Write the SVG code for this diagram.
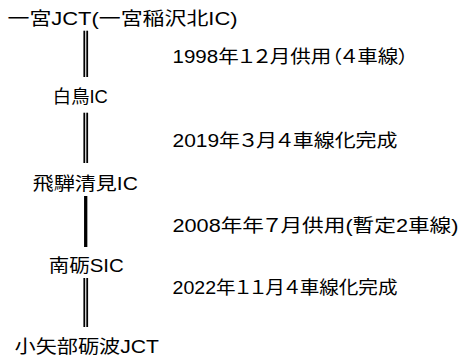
<svg xmlns="http://www.w3.org/2000/svg" width="460" height="362" viewBox="0 0 460 362">
<style>
text{font-family:"Liberation Sans","Noto Sans CJK JP",sans-serif;font-size:18px;fill:#000;font-feature-settings:"palt"}
.dbl{stroke:#000;stroke-width:1.8;fill:none}
.sgl{stroke:#000;stroke-width:3.3;fill:none}
</style>
<rect width="460" height="362" fill="#fff"/>
<g id="connectors">
  <g id="seg1"><line class="dbl" x1="84.3" y1="30.7" x2="84.3" y2="77"/><line class="dbl" x1="87.2" y1="30.7" x2="87.2" y2="77"/>
    <text x="172.5" y="63" textLength="236" lengthAdjust="spacingAndGlyphs">1998年１２月供用（４車線）</text></g>
  <g id="seg2"><line class="dbl" x1="84.3" y1="112.7" x2="84.3" y2="163"/><line class="dbl" x1="87.2" y1="112.7" x2="87.2" y2="163"/>
    <text x="172.5" y="147" textLength="225" lengthAdjust="spacingAndGlyphs">2019年３月４車線化完成</text></g>
  <g id="seg3"><line class="sgl" x1="85.7" y1="196" x2="85.7" y2="247"/>
    <text x="172.5" y="232" textLength="286" lengthAdjust="spacingAndGlyphs">2008年年７月供用(暫定2車線)</text></g>
  <g id="seg4"><line class="dbl" x1="84.3" y1="278" x2="84.3" y2="327"/><line class="dbl" x1="87.2" y1="278" x2="87.2" y2="327"/>
    <text x="172.5" y="294" textLength="225" lengthAdjust="spacingAndGlyphs">2022年１１月４車線化完成</text></g>
</g>
<g id="node-ichinomiya"><text x="7.5" y="25" textLength="230" lengthAdjust="spacingAndGlyphs">一宮JCT(一宮稲沢北IC)</text></g>
<g id="node-shirotori"><text x="52.8" y="103" textLength="55" lengthAdjust="spacingAndGlyphs">白鳥IC</text></g>
<g id="node-hidakiyomi"><text x="32.8" y="190" textLength="105" lengthAdjust="spacingAndGlyphs">飛騨清見IC</text></g>
<g id="node-nanto"><text x="48.8" y="272" textLength="75" lengthAdjust="spacingAndGlyphs">南砺SIC</text></g>
<g id="node-oyabe"><text x="14.5" y="353" textLength="144.5" lengthAdjust="spacingAndGlyphs">小矢部砺波JCT</text></g>
</svg>
